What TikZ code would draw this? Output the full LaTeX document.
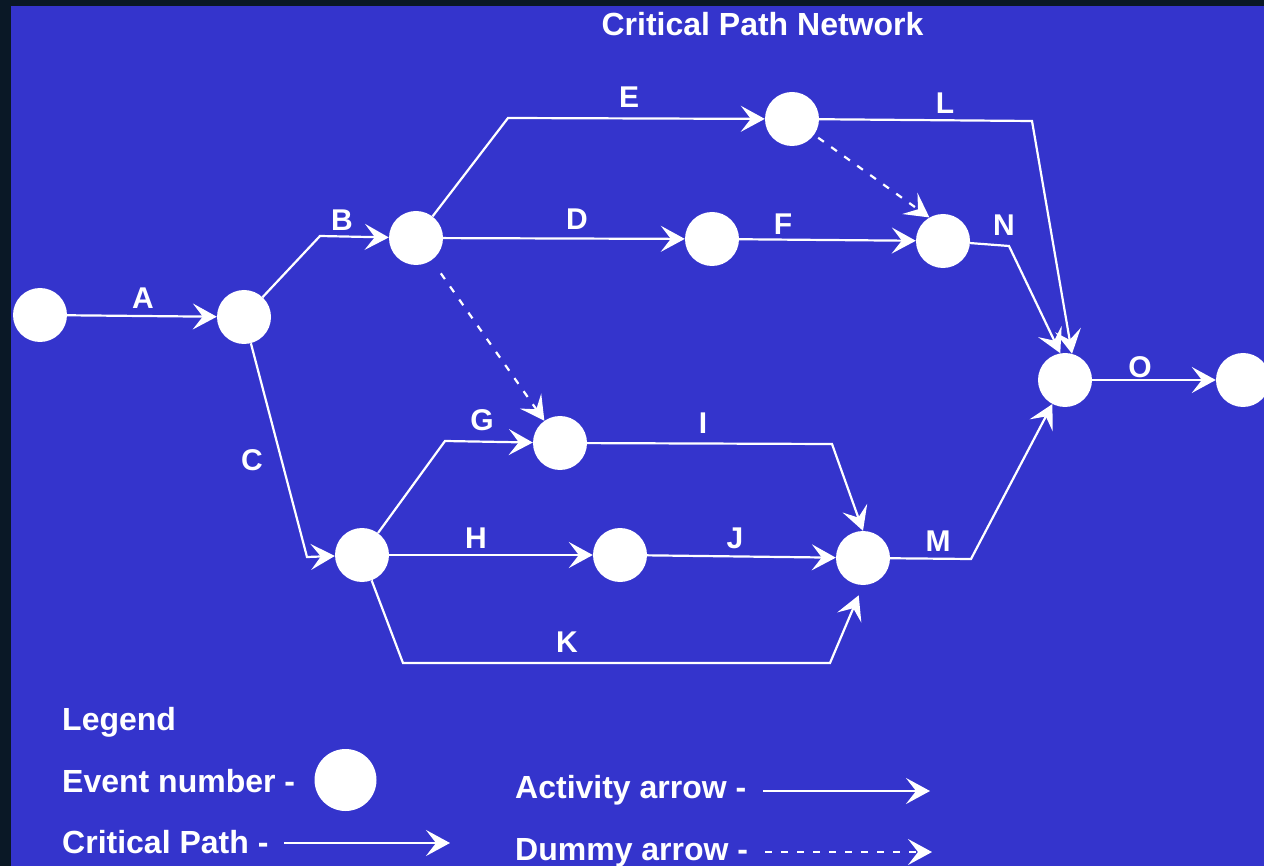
\documentclass[tikz,border=0pt]{standalone}
\usepackage{fontspec}
\setmainfont{Liberation Sans}
\usetikzlibrary{arrows.meta}
\definecolor{bgblue}{RGB}{52,52,204}
\definecolor{outerdark}{RGB}{10,24,38}
\begin{document}
\begin{tikzpicture}[x=1pt,y=-1pt,
  evt/.style={circle, fill=white, minimum size=54pt, inner sep=0pt},
  act/.style={draw=white, line width=2.2pt, -{Stealth[length=24pt,width=26pt,inset=10pt]}},
  dum/.style={act, dash pattern=on 7pt off 9pt},
  lbl/.style={text=white, font=\fontsize{30}{36}\selectfont\bfseries, inner sep=0pt},
  leg/.style={text=white, font=\fontsize{32}{38}\selectfont\bfseries, inner sep=0pt, anchor=base west}]
\useasboundingbox (0,0) rectangle (1264,866);
\fill[outerdark] (0,0) rectangle (1264,866);
\fill[bgblue] (11,6) rectangle (1264,866);

\node[text=white, font=\fontsize{32}{38}\selectfont\bfseries, anchor=base, inner sep=0pt] (title) at (762.5,36) {Critical Path Network};

% events
\node[evt] (n1) at (40,315) {};
\node[evt] (n2) at (244,317) {};
\node[evt] (n3) at (416,238) {};
\node[evt] (n4) at (792,119) {};
\node[evt] (n5) at (712,239) {};
\node[evt] (n6) at (943,241) {};
\node[evt] (n7) at (1065,380) {};
\node[evt] (n8) at (1243,380) {};
\node[evt] (n9) at (560,443) {};
\node[evt] (n10) at (362,555) {};
\node[evt] (n11) at (620,555) {};
\node[evt] (n12) at (863,558) {};

% activities
\draw[act] (n1) -- (n2);
\draw[act] (n2) -- (320,236) -- (n3);
\draw[act] (n2) -- (307,557) -- (n10);
\draw[act] (n3) -- (508,118) -- (n4);
\draw[act] (n3) -- (n5);
\draw[dum, shorten <=16pt] (n3) -- (n9);
\draw[act] (n4) -- (1032,121) -- (n7.75);
\draw[dum, shorten <=5pt] (n4) -- (n6.120);
\draw[act] (n5) -- (n6);
\draw[act] (n6) -- (1009,246) -- (n7.100);
\draw[act] (n7) -- (n8);
\draw[act] (n10) -- (445,441) -- (n9);
\draw[act] (n9) -- (832,444) -- (n12.north);
\draw[act] (n10) -- (n11);
\draw[act] (n11) -- (n12);
\draw[act, shorten >=11pt] (n10) -- (403,663) -- (830,663) -- (n12.south);
\draw[act] (n12) -- (971,559) -- (n7);

% labels
\node[lbl] (lA) at (143,298) {A};
\node[lbl] (lB) at (342,220) {B};
\node[lbl] (lC) at (252,460) {C};
\node[lbl] (lD) at (577,219) {D};
\node[lbl] (lE) at (629,97) {E};
\node[lbl] (lF) at (783,224) {F};
\node[lbl] (lG) at (482,420) {G};
\node[lbl] (lH) at (476,538) {H};
\node[lbl] (lI) at (703,423) {I};
\node[lbl] (lJ) at (735,538) {J};
\node[lbl] (lK) at (567,642) {K};
\node[lbl] (lL) at (945,103) {L};
\node[lbl] (lM) at (938,541) {M};
\node[lbl] (lN) at (1004,225) {N};
\node[lbl] (lO) at (1140,367) {O};

% legend
\node[leg] (tLeg) at (62,730) {Legend};
\node[leg] (tEv) at (62,792) {Event number -};
\node[evt, minimum size=62pt] (legev) at (345.5,780) {};
\node[leg] (tCp) at (62,853) {Critical Path -};
\coordinate (cp1) at (284,843);
\coordinate (cp2) at (450,843);
\draw[act] (cp1) -- (cp2);
\node[leg] (tAa) at (515,798) {Activity arrow -};
\coordinate (aa1) at (763,791);
\coordinate (aa2) at (930,791);
\draw[act] (aa1) -- (aa2);
\node[leg] (tDa) at (515,860) {Dummy arrow -};
\coordinate (da1) at (765,852);
\coordinate (da2) at (932,852);
\draw[dum] (da1) -- (da2);
\end{tikzpicture}
\end{document}
